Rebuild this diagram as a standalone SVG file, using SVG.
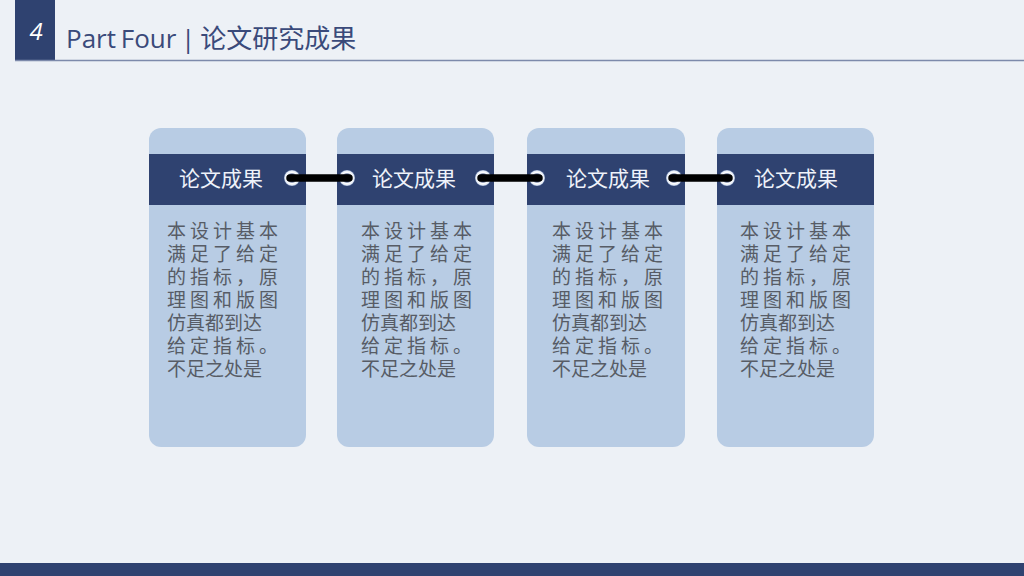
<svg xmlns="http://www.w3.org/2000/svg" width="1024" height="576" viewBox="0 0 1024 576">
<defs>
<radialGradient id="ring" cx="50%" cy="50%" r="50%">
<stop offset="0%" stop-color="#2f4270"/>
<stop offset="45%" stop-color="#3a4f80"/>
<stop offset="68%" stop-color="#ffffff"/>
<stop offset="88%" stop-color="#e6ecf6"/>
<stop offset="100%" stop-color="#8fa3c8"/>
</radialGradient>
</defs>
<style>
.card{fill:#b8cce4}
.band{fill:#2f4270}
.ttl{font-family:"Microsoft YaHei","Noto Sans CJK SC",sans-serif;font-size:21px;fill:#eef2fa;text-anchor:middle}
.body{font-family:"Noto Sans CJK SC",sans-serif;font-size:19px;fill:#575c66}
.sp{letter-spacing:4px}
.knob{fill:url(#ring)}
.conn{stroke:#000;stroke-width:7.5;stroke-linecap:round;fill:none}
</style>
<rect width="1024" height="576" fill="#edf1f6"/>
<g id="header">
<rect x="15" y="0" width="40" height="61" fill="#2f4270"/>
<text x="36" y="40" font-family="Open Sans, Noto Sans, sans-serif" font-style="italic" font-size="24" fill="#ffffff" text-anchor="middle">4</text>
<text x="66" y="48" font-family="Open Sans, Noto Sans CJK SC, sans-serif" font-size="26" word-spacing="-2" fill="#3a4a7a">Part Four | 论文研究成果</text>
<line x1="15" y1="60.5" x2="1024" y2="60.5" stroke="#7d8aab" stroke-width="1.5"/>
</g>
<rect id="footer" x="0" y="563" width="1024" height="13" fill="#2f4270"/>

<g id="card1">
<rect class="card" x="149" y="128" width="157" height="319" rx="12"/>
<rect class="band" x="149" y="154" width="157" height="51"/>
<text class="ttl" x="221" y="186">论文成果</text>
<circle class="knob" cx="292" cy="178" r="8"/>
<text class="body"><tspan class="sp" x="167" y="238">本设计基本</tspan><tspan class="sp" x="167" y="261">满足了给定</tspan><tspan class="sp" x="167" y="284">的指标，原</tspan><tspan class="sp" x="167" y="307">理图和版图</tspan><tspan x="167" y="330">仿真都到达</tspan><tspan class="sp" x="167" y="353">给定指标。</tspan><tspan x="167" y="376">不足之处是</tspan></text>
</g>
<g id="card2">
<rect class="card" x="337" y="128" width="157" height="319" rx="12"/>
<rect class="band" x="337" y="154" width="157" height="51"/>
<text class="ttl" x="414" y="186">论文成果</text>
<circle class="knob" cx="347" cy="178" r="8"/>
<circle class="knob" cx="483" cy="178" r="8"/>
<text class="body"><tspan class="sp" x="361" y="238">本设计基本</tspan><tspan class="sp" x="361" y="261">满足了给定</tspan><tspan class="sp" x="361" y="284">的指标，原</tspan><tspan class="sp" x="361" y="307">理图和版图</tspan><tspan x="361" y="330">仿真都到达</tspan><tspan class="sp" x="361" y="353">给定指标。</tspan><tspan x="361" y="376">不足之处是</tspan></text>
</g>
<g id="card3">
<rect class="card" x="527" y="128" width="158" height="319" rx="12"/>
<rect class="band" x="527" y="154" width="158" height="51"/>
<text class="ttl" x="608" y="186">论文成果</text>
<circle class="knob" cx="537" cy="178" r="8"/>
<circle class="knob" cx="674" cy="178" r="8"/>
<text class="body"><tspan class="sp" x="552" y="238">本设计基本</tspan><tspan class="sp" x="552" y="261">满足了给定</tspan><tspan class="sp" x="552" y="284">的指标，原</tspan><tspan class="sp" x="552" y="307">理图和版图</tspan><tspan x="552" y="330">仿真都到达</tspan><tspan class="sp" x="552" y="353">给定指标。</tspan><tspan x="552" y="376">不足之处是</tspan></text>
</g>
<g id="card4">
<rect class="card" x="717" y="128" width="157" height="319" rx="12"/>
<rect class="band" x="717" y="154" width="157" height="51"/>
<text class="ttl" x="796" y="186">论文成果</text>
<circle class="knob" cx="727" cy="178" r="8"/>
<text class="body"><tspan class="sp" x="740" y="238">本设计基本</tspan><tspan class="sp" x="740" y="261">满足了给定</tspan><tspan class="sp" x="740" y="284">的指标，原</tspan><tspan class="sp" x="740" y="307">理图和版图</tspan><tspan x="740" y="330">仿真都到达</tspan><tspan class="sp" x="740" y="353">给定指标。</tspan><tspan x="740" y="376">不足之处是</tspan></text>
</g>
<g id="connectors">
<line class="conn" x1="290" y1="178" x2="349" y2="178"/>
<line class="conn" x1="481" y1="178" x2="539" y2="178"/>
<line class="conn" x1="672" y1="178" x2="729" y2="178"/>
</g>
</svg>
